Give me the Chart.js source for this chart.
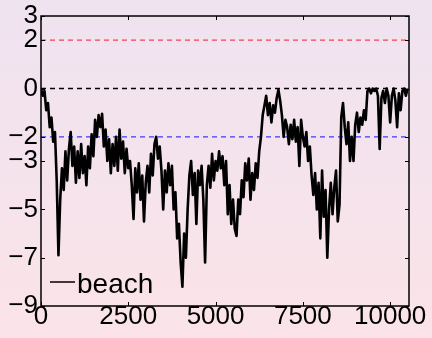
<!DOCTYPE html>
<html>
<head>
<meta charset="utf-8">
<script src="https://cdn.jsdelivr.net/npm/chart.js@4.4.1/dist/chart.umd.min.js"></script>
<style>
    html, body { margin: 0; padding: 0; }
    body { width: 432px; height: 338px; background: linear-gradient(to bottom, #efe3f0, #fbe3e8); }
</style>
</head>
<body>
<canvas id="chart" width="432" height="338"></canvas>
<script>
// Serie "beach", una muestra cada 50 pasos
const stepSize = 50;
const beach = [
    0.0, -0.3, -0.1, -0.9, -0.6, -1.6, -1.2, -2.2, -1.8, -3.8, -6.9,
    -4.6, -3.3, -4.2, -2.6, -3.8, -2.5, -1.8, -3.2, -2.4, -3.9,
    -2.6, -3.7, -2.3, -3.5, -2.8, -4.0, -2.4, -3.3, -1.9, -2.8,
    -1.3, -2.0, -1.1, -1.6, -1.05, -2.4, -1.7, -3.0, -2.1, -3.5,
    -2.3, -3.2, -2.0, -3.4, -1.7, -2.9, -2.2, -3.5, -2.5, -3.3,
    -3.0, -4.0, -5.4, -3.3, -4.3, -3.1, -4.6, -3.6, -5.5, -3.9,
    -3.2, -4.3, -2.7, -3.6, -2.3, -2.0, -2.9, -2.4, -3.4, -5.0,
    -3.4, -4.3, -3.1, -4.0, -3.2, -5.0, -4.3, -6.2, -5.6, -7.2, -8.2,
    -6.0, -7.0, -5.0, -3.6, -3.0, -4.4, -3.5, -5.6, -3.4,
    -4.0, -3.2, -4.6, -7.2, -4.0, -3.2, -4.1, -2.7, -3.8, -3.0,
    -3.4, -2.6, -3.3, -2.8, -4.0, -3.0, -5.2, -4.0, -5.6, -4.6,
    -5.8, -6.1, -4.6, -5.2, -3.8, -4.5, -3.1, -3.8, -2.9, -4.6,
    -3.5, -4.2, -3.1, -3.7, -2.6, -2.0, -1.1, -0.7, -0.3, -1.1,
    -0.6, -1.4, -0.7, -1.0, -0.4, -0.05, -0.5, -1.1, -2.0, -1.3,
    -1.6, -2.3, -1.5, -2.1, -1.3, -2.2, -1.6, -3.2, -1.3, -2.0,
    -2.4, -1.8, -3.0, -2.4, -3.6, -4.4, -3.5, -5.0, -3.9, -6.2,
    -3.4, -5.3, -4.2, -7.0, -5.0, -3.9, -5.2, -4.1, -3.4, -5.5,
    -4.8, -1.2, -0.6, -1.6, -2.3, -1.4, -3.0, -2.0, -3.0, -1.5,
    -1.0, -1.8, -1.2, -1.5, -0.9, -1.3, -0.1, 0.0, -0.2, 0.0,
    -0.1, 0.0, -0.3, -2.5, -0.4, -0.1, -0.6, 0.0, -0.3, -1.4,
    -0.3, 0.0, -0.5, -1.6, -0.2, -0.9, -0.1, 0.0, -0.3, 0.0
];

const xRange = [0, 10540];
const xTicks = [0, 2500, 5000, 7500, 10000];
const yRange = [-9, 3];
const yTicks = [3, 2, 0, -2, -3, -5, -7, -9];
const refLevels = [2, 0, -2]; // líneas discontinuas: roja, negra, azul

const FONT = '"Liberation Sans", Arial, sans-serif';

function minusLabel(v) {
    return v < 0 ? '\u2212' + Math.abs(v) : String(v);
}

function refLine(level, color) {
    return {
        label: 'ref' + level,
        data: xRange.map(x => ({x: x, y: level})),
        borderColor: color,
        borderWidth: 1.3,
        borderDash: [5, 4],
        pointRadius: 0,
        order: 2
    };
}

// Marco, marcas interiores y leyenda
const framePlugin = {
    id: 'frame',
    afterDatasetsDraw(chart) {
        const {ctx, chartArea: a, scales} = chart;
        ctx.save();
        ctx.strokeStyle = '#000';
        ctx.lineWidth = 1.5;
        ctx.strokeRect(a.left, a.top, a.right - a.left, a.bottom - a.top);
        ctx.lineWidth = 1;
        const len = 4;
        ctx.beginPath();
        xTicks.forEach(v => {
            const px = Math.round(scales.x.getPixelForValue(v)) + 0.5;
            ctx.moveTo(px, a.bottom); ctx.lineTo(px, a.bottom - len);
            ctx.moveTo(px, a.top); ctx.lineTo(px, a.top + len);
        });
        yTicks.forEach(v => {
            const py = Math.round(scales.y.getPixelForValue(v)) + 0.5;
            ctx.moveTo(a.left, py); ctx.lineTo(a.left + len, py);
            ctx.moveTo(a.right, py); ctx.lineTo(a.right - len, py);
        });
        ctx.stroke();

        // leyenda abajo a la izquierda
        const ds = chart.data.datasets[0];
        const ly = a.bottom - 24;
        ctx.lineWidth = 1.5;
        ctx.beginPath();
        ctx.moveTo(a.left + 9, ly);
        ctx.lineTo(a.left + 34, ly);
        ctx.stroke();
        ctx.fillStyle = '#000';
        ctx.font = '28px ' + FONT;
        ctx.textBaseline = 'alphabetic';
        ctx.fillText(ds.label, a.left + 36, a.bottom - 13);
        ctx.restore();
    }
};

const config = {
    type: 'line',
    data: {
        datasets: [
            {
                label: 'beach',
                data: beach.map((v, i) => ({x: i * stepSize, y: v})),
                borderColor: '#000',
                borderWidth: 2.6,
                pointRadius: 0,
                tension: 0,
                borderJoinStyle: 'round',
                order: 1
            },
            refLine(refLevels[0], 'rgba(245, 40, 50, 0.85)'),
            refLine(refLevels[1], '#000'),
            refLine(refLevels[2], 'rgba(40, 40, 255, 0.9)')
        ]
    },
    options: {
        responsive: false,
        animation: false,
        events: [],
        layout: {padding: {top: 15, right: 23, left: 0, bottom: 0}},
        plugins: {
            legend: {display: false},
            tooltip: {enabled: false}
        },
        scales: {
            x: {
                type: 'linear',
                min: xRange[0],
                max: xRange[1],
                afterBuildTicks: s => { s.ticks = xTicks.map(v => ({value: v})); },
                afterFit: s => { s.height = 32; },
                grid: {display: false, drawTicks: false},
                border: {display: false},
                ticks: {
                    color: '#000',
                    font: {family: FONT, size: 26, lineHeight: 1},
                    padding: -2,
                    maxRotation: 0,
                    autoSkip: false,
                    callback: v => String(v)
                }
            },
            y: {
                type: 'linear',
                min: yRange[0],
                max: yRange[1],
                afterBuildTicks: s => { s.ticks = yTicks.map(v => ({value: v})); },
                afterFit: s => { s.width = 41; },
                grid: {display: false, drawTicks: false},
                border: {display: false},
                ticks: {
                    color: '#000',
                    font: {family: FONT, size: 26, lineHeight: 1},
                    padding: 3,
                    autoSkip: false,
                    callback: v => minusLabel(v)
                }
            }
        }
    },
    plugins: [framePlugin]
};

new Chart(document.getElementById('chart').getContext('2d'), config);
</script>
</body>
</html>
